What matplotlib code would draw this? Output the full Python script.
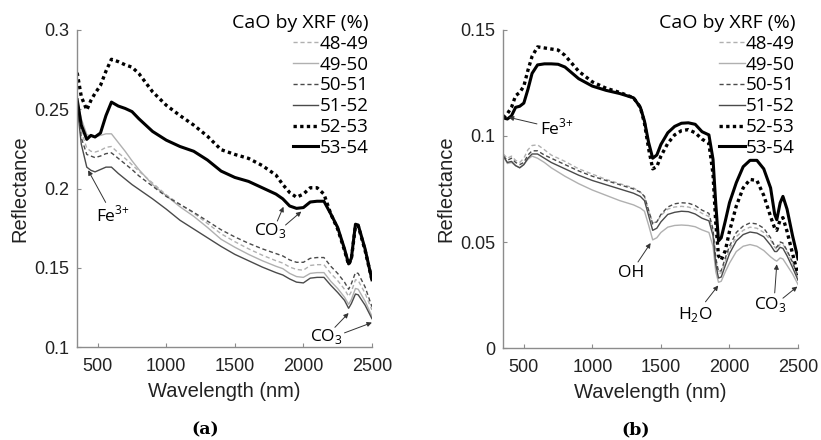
import matplotlib
matplotlib.use("Agg")
import matplotlib.pyplot as plt
from matplotlib.lines import Line2D

# ---- data ----
labels = ["48-49", "49-50", "50-51", "51-52", "52-53", "53-54"]

# (a) spectra
wl_a = [350, 380, 420, 450, 480, 520, 560, 600, 650, 700, 750, 800, 900, 1000, 1100,
        1200, 1300, 1400, 1500, 1600, 1700, 1800, 1850, 1900, 1950, 2000, 2050, 2100,
        2150, 2200, 2250, 2300, 2330, 2350, 2380, 2400, 2450, 2500]
a_48_49 = [0.254, 0.236, 0.2255, 0.2235, 0.223, 0.224, 0.226, 0.2265, 0.2225, 0.219, 0.215,
           0.211, 0.2035, 0.196, 0.19, 0.1845, 0.178, 0.1715, 0.1665, 0.162, 0.158, 0.1545,
           0.153, 0.1505, 0.149, 0.1485, 0.1515, 0.152, 0.152, 0.1465, 0.142, 0.1365, 0.132,
           0.135, 0.1425, 0.142, 0.134, 0.1235]
a_49_50 = [0.256, 0.244, 0.234, 0.233, 0.2325, 0.2335, 0.2345, 0.2345, 0.229, 0.2235, 0.2175,
           0.212, 0.2025, 0.1955, 0.1885, 0.1825, 0.1755, 0.168, 0.163, 0.1585, 0.1545, 0.151,
           0.1495, 0.1465, 0.1445, 0.144, 0.1465, 0.147, 0.147, 0.1415, 0.137, 0.1315, 0.127,
           0.13, 0.137, 0.1365, 0.129, 0.1195]
a_50_51 = [0.253, 0.232, 0.2215, 0.2205, 0.2195, 0.2205, 0.222, 0.2225, 0.219, 0.2155, 0.212,
           0.208, 0.2015, 0.195, 0.19, 0.185, 0.1795, 0.174, 0.1695, 0.1655, 0.162, 0.159,
           0.1575, 0.155, 0.1535, 0.1535, 0.156, 0.1565, 0.1565, 0.151, 0.1465, 0.141, 0.1365,
           0.14, 0.147, 0.1465, 0.138, 0.1255]
a_51_52 = [0.252, 0.228, 0.2135, 0.2115, 0.2105, 0.212, 0.2135, 0.2135, 0.2095, 0.206, 0.2025,
           0.1995, 0.1935, 0.187, 0.18, 0.1745, 0.169, 0.1635, 0.1585, 0.1545, 0.1505, 0.147,
           0.1455, 0.143, 0.141, 0.1405, 0.1435, 0.144, 0.144, 0.139, 0.1345, 0.1295, 0.1245,
           0.1275, 0.1335, 0.133, 0.1265, 0.118]
a_52_53 = [0.273, 0.258, 0.2495, 0.2555, 0.26, 0.265, 0.274, 0.2815, 0.28, 0.278, 0.2765,
           0.2725, 0.261, 0.2525, 0.246, 0.24, 0.233, 0.2245, 0.2215, 0.219, 0.2145, 0.2085,
           0.2025, 0.1975, 0.1945, 0.1965, 0.2005, 0.2005, 0.1965, 0.184, 0.1745, 0.161, 0.152,
           0.1555, 0.1765, 0.1765, 0.161, 0.1425]
a_53_54 = [0.256, 0.24, 0.231, 0.2335, 0.2325, 0.235, 0.246, 0.2545, 0.252, 0.2505, 0.2485,
           0.244, 0.236, 0.2305, 0.2265, 0.2235, 0.218, 0.211, 0.207, 0.2045, 0.2005, 0.1965,
           0.1935, 0.189, 0.1875, 0.188, 0.1915, 0.192, 0.192, 0.184, 0.1755, 0.162, 0.1525,
           0.156, 0.1775, 0.177, 0.162, 0.1425]

# (b) spectra
wl_b = [350, 380, 410, 440, 470, 500, 530, 560, 600, 650, 700, 750, 800, 900, 1000, 1100,
        1200, 1300, 1350, 1380, 1410, 1440, 1470, 1500, 1550, 1600, 1650, 1700, 1750, 1800,
        1850, 1880, 1900, 1920, 1940, 1970, 2000, 2050, 2100, 2150, 2200, 2250, 2300, 2330,
        2345, 2370, 2390, 2420, 2460, 2500]
b_48_49 = [0.0915, 0.0895, 0.0905, 0.0885, 0.0875, 0.0895, 0.0935, 0.0955, 0.0958, 0.0935,
           0.091, 0.0895, 0.088, 0.0845, 0.082, 0.0795, 0.0775, 0.0755, 0.0735, 0.0715, 0.065,
           0.059, 0.0595, 0.0625, 0.0655, 0.0665, 0.0668, 0.0665, 0.0655, 0.0635, 0.062, 0.055,
           0.042, 0.035, 0.0355, 0.041, 0.0465, 0.0525, 0.0555, 0.057, 0.0565, 0.0545, 0.051,
           0.0475, 0.0465, 0.049, 0.049, 0.0455, 0.04, 0.0335]
b_49_50 = [0.0905, 0.087, 0.0875, 0.086, 0.085, 0.0865, 0.089, 0.0905, 0.0895, 0.0875, 0.085,
           0.083, 0.081, 0.0775, 0.0745, 0.072, 0.0695, 0.0675, 0.066, 0.0645, 0.058, 0.051,
           0.052, 0.0545, 0.057, 0.0578, 0.058, 0.0578, 0.0572, 0.0557, 0.0545, 0.048, 0.036,
           0.031, 0.0315, 0.036, 0.04, 0.0455, 0.048, 0.0488, 0.048, 0.046, 0.043, 0.0415,
           0.041, 0.0425, 0.042, 0.039, 0.035, 0.03]
b_50_51 = [0.0905, 0.0885, 0.0895, 0.0875, 0.0865, 0.0875, 0.091, 0.093, 0.093, 0.091, 0.0895,
           0.088, 0.0865, 0.0835, 0.081, 0.079, 0.077, 0.075, 0.0735, 0.0715, 0.065, 0.0585,
           0.0595, 0.063, 0.0665, 0.068, 0.0685, 0.0683, 0.0672, 0.065, 0.0635, 0.056, 0.0425,
           0.036, 0.0365, 0.0425, 0.048, 0.0545, 0.0575, 0.059, 0.0585, 0.0565, 0.052, 0.048,
           0.0475, 0.05, 0.0495, 0.046, 0.0405, 0.034]
b_51_52 = [0.0905, 0.0875, 0.088, 0.086, 0.085, 0.0865, 0.0895, 0.0915, 0.0915, 0.0895, 0.0875,
           0.086, 0.0845, 0.0815, 0.079, 0.077, 0.075, 0.073, 0.0715, 0.0695, 0.0625, 0.0555,
           0.0565, 0.0595, 0.063, 0.064, 0.0645, 0.0643, 0.0632, 0.0612, 0.06, 0.053, 0.0395,
           0.033, 0.0335, 0.039, 0.0445, 0.0505, 0.0535, 0.0547, 0.0542, 0.0525, 0.0485, 0.0455,
           0.0455, 0.0475, 0.047, 0.0435, 0.038, 0.032]
b_52_53 = [0.1085, 0.1105, 0.1135, 0.119, 0.1205, 0.1235, 0.131, 0.1375, 0.142, 0.1415, 0.141,
           0.1405, 0.138, 0.1305, 0.1255, 0.1225, 0.1205, 0.118, 0.1135, 0.106, 0.094, 0.0845,
           0.0855, 0.0905, 0.0965, 0.1005, 0.1025, 0.103, 0.1015, 0.0985, 0.0965, 0.082, 0.059,
           0.0435, 0.0415, 0.046, 0.055, 0.067, 0.0755, 0.0795, 0.079, 0.072, 0.062, 0.0565,
           0.0555, 0.0605, 0.0615, 0.055, 0.0445, 0.0345]
b_53_54 = [0.1085, 0.108, 0.1095, 0.1135, 0.114, 0.1155, 0.122, 0.1295, 0.1335, 0.134, 0.134,
           0.1338, 0.1325, 0.127, 0.1235, 0.1215, 0.12, 0.118, 0.1135, 0.107, 0.097, 0.0895,
           0.091, 0.096, 0.1015, 0.1045, 0.106, 0.1062, 0.1055, 0.102, 0.1005, 0.089, 0.068,
           0.0505, 0.052, 0.06, 0.0685, 0.078, 0.0855, 0.0885, 0.0885, 0.0845, 0.0755, 0.063,
           0.0605, 0.0685, 0.0715, 0.0655, 0.053, 0.042]

series_a = [a_48_49, a_49_50, a_50_51, a_51_52, a_52_53, a_53_54]
series_b = [b_48_49, b_49_50, b_50_51, b_51_52, b_52_53, b_53_54]

yticks_a = [0.1, 0.15, 0.2, 0.25, 0.3]
yticks_b = [0, 0.05, 0.1, 0.15]
xticks = [500, 1000, 1500, 2000, 2500]

# line styles per class
styles = [
    dict(color="#b0b0b0", ls=(0, (3, 2)), lw=1.0),
    dict(color="#b0b0b0", ls="-", lw=1.0),
    dict(color="#4a4a4a", ls=(0, (3, 2)), lw=1.0),
    dict(color="#4a4a4a", ls="-", lw=1.0),
    dict(color="black", ls=(0, (1, 1)), lw=2.4),
    dict(color="black", ls="-", lw=2.2),
]

TICK_FONT = "Liberation Sans"
NOTE_FONT = "Open Sans"
FE = r"Fe$^{\mathregular{3{+}}}$"
CO3 = r"CO$_{\mathregular{3}}$"


def fmt(v):
    s = ("%.2f" % v).rstrip("0").rstrip(".")
    return s


def setup_axes(ax, yticks, ylim):
    ax.set_xlim(350, 2500)
    ax.set_ylim(*ylim)
    for side in ("top", "right"):
        ax.spines[side].set_visible(False)
    for side in ("left", "bottom"):
        ax.spines[side].set_color("#8c8c8c")
        ax.spines[side].set_linewidth(1.0)
    ax.set_xticks(xticks)
    ax.set_yticks(yticks)
    ax.set_yticklabels([fmt(v) for v in yticks])
    ax.tick_params(direction="in", length=3, color="#8c8c8c", labelsize=13,
                   labelcolor="#222222", pad=6)
    ax.tick_params(axis="x", pad=8)
    for lab in ax.get_xticklabels() + ax.get_yticklabels():
        lab.set_fontfamily(TICK_FONT)
    ax.set_xlabel("Wavelength (nm)", fontsize=14.5, family=TICK_FONT, color="#222222",
                  labelpad=5)
    ax.set_ylabel("Reflectance", fontsize=14.5, family=TICK_FONT, color="#222222",
                  labelpad=3)
    handles = [Line2D([], [], **st) for st in styles]
    leg = ax.legend(handles, labels, title="CaO by XRF (%)", loc="upper right",
                    bbox_to_anchor=(0.99, 1.05), frameon=False, alignment="right",
                    handlelength=1.35, handletextpad=0.08, labelspacing=0.15,
                    borderaxespad=0, borderpad=0,
                    prop={"family": NOTE_FONT, "size": 13.5})
    leg.get_title().set_fontfamily(NOTE_FONT)
    leg.get_title().set_fontsize(14)


def note(ax, text, xy, xytext):
    ax.annotate(text, xy=xy, xytext=xytext, ha="center", va="center",
                fontsize=12.5, family=NOTE_FONT,
                arrowprops=dict(arrowstyle="-|>", color="#333333", lw=0.7,
                                mutation_scale=7, shrinkA=0, shrinkB=0))


def arrow(ax, xy, xytail):
    ax.annotate("", xy=xy, xytext=xytail,
                arrowprops=dict(arrowstyle="-|>", color="#333333", lw=0.7,
                                mutation_scale=7, shrinkA=0, shrinkB=0))


fig = plt.figure(figsize=(8.21, 4.40), dpi=100)
ax_a = fig.add_axes([0.094, 0.211, 0.359, 0.721])
ax_b = fig.add_axes([0.613, 0.209, 0.359, 0.723])

for ys, st in zip(series_a, styles):
    ax_a.plot(wl_a, ys, **st)
for ys, st in zip(series_b, styles):
    ax_b.plot(wl_b, ys, **st)

setup_axes(ax_a, yticks_a, (0.1, 0.3))
setup_axes(ax_b, yticks_b, (0, 0.15))

# panel (a) notes
note(ax_a, FE, (430, 0.2115), (610, 0.183))
ax_a.text(1760, 0.1735, CO3, ha="center", va="center", fontsize=12.5, family=NOTE_FONT)
arrow(ax_a, (1855, 0.1885), (1810, 0.1795))
arrow(ax_a, (1985, 0.1855), (1870, 0.177))
ax_a.text(2170, 0.1065, CO3, ha="center", va="center", fontsize=12.5, family=NOTE_FONT)
arrow(ax_a, (2330, 0.1215), (2230, 0.1125))
arrow(ax_a, (2500, 0.1155), (2300, 0.109))

# panel (b) notes
note(ax_b, FE, (390, 0.1088), (740, 0.1035))
note(ax_b, "OH", (1425, 0.0495), (1280, 0.0355))
note(ax_b, r"H$_{\mathregular{2}}$O", (1918, 0.0295), (1755, 0.016))
ax_b.text(2300, 0.0205, CO3, ha="center", va="center", fontsize=12.5, family=NOTE_FONT)
arrow(ax_b, (2345, 0.0395), (2330, 0.026))
arrow(ax_b, (2495, 0.029), (2390, 0.0235))

fig.text(0.250, 0.023, "(a)", ha="center", va="center", fontsize=12.5,
         fontweight="bold", family="DejaVu Serif")
fig.text(0.774, 0.023, "(b)", ha="center", va="center", fontsize=12.5,
         fontweight="bold", family="DejaVu Serif")

fig.savefig("out.png", dpi=100)
